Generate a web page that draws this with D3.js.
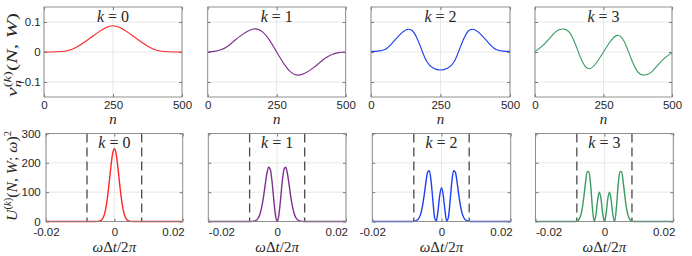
<!DOCTYPE html>
<html lang="en">
<head>
<meta charset="UTF-8">
<title>Slepian tapers and their spectra</title>
<script src="https://d3js.org/d3.v7.min.js"></script>
<style>
  body { margin: 0; background: #fff; }
  svg { display: block; }
  .tick text { font-family: "Liberation Sans", Arial, sans-serif; font-size: 11.5px; fill: #262626; }
  .tick line { stroke: #262626; stroke-width: 0.6; }
  .math { font-family: "Liberation Serif", "Times New Roman", serif; fill: #262626; }
</style>
</head>
<body>
<script>
  // taper order of each column
  const kOrders = [0, 1, 2, 3];

  // sample index n of the tapers (top row)
  const nSamples = [0, 25, 50, 75, 100, 125, 150, 175, 200, 225, 250, 275, 300, 325, 350, 375, 400, 425, 450, 475, 500];
  const taperK0 = [0.0000, 0.0002, 0.0006, 0.0025, 0.0085, 0.0200, 0.0350, 0.0515, 0.0680, 0.0815, 0.0875,
                   0.0815, 0.0680, 0.0515, 0.0350, 0.0200, 0.0085, 0.0025, 0.0006, 0.0002, 0.0000];
  const taperK1 = [0.0000, 0.0020, 0.0080, 0.0210, 0.0400, 0.0580, 0.0720, 0.0770, 0.0660, 0.0380, 0.0000,
                   -0.0380, -0.0660, -0.0770, -0.0720, -0.0580, -0.0400, -0.0210, -0.0080, -0.0020, 0.0000];
  const taperK2 = [0.0020, 0.0030, 0.0080, 0.0280, 0.0540, 0.0730, 0.0700, 0.0250, -0.0310, -0.0540, -0.0600,
                   -0.0540, -0.0310, 0.0250, 0.0700, 0.0730, 0.0540, 0.0280, 0.0080, 0.0030, 0.0020];
  const taperK3 = [0.0020, 0.0190, 0.0420, 0.0670, 0.0765, 0.0660, 0.0200, -0.0360, -0.0555, -0.0350, 0.0000,
                   0.0350, 0.0555, 0.0360, -0.0200, -0.0660, -0.0765, -0.0670, -0.0420, -0.0190, -0.0020];

  // normalised frequency omega*dt/2pi (bottom row)
  const freqGrid = [-0.02, -0.0085, -0.008, -0.0075, -0.007, -0.0065, -0.006, -0.0055, -0.005, -0.0045, -0.004,
                    -0.0035, -0.003, -0.0025, -0.002, -0.0015, -0.001, -0.0005, 0, 0.0005, 0.001, 0.0015, 0.002,
                    0.0025, 0.003, 0.0035, 0.004, 0.0045, 0.005, 0.0055, 0.006, 0.0065, 0.007, 0.0075, 0.008,
                    0.0085, 0.02];
  const spectrumK0 = [0, 0, 0, 0, 0, 0, 0, 0, 0.3, 1.0, 3.1, 8.6, 21, 45, 83, 134, 188, 232, 248,
                      232, 188, 134, 83, 45, 21, 8.6, 3.1, 1.0, 0.3, 0, 0, 0, 0, 0, 0, 0, 0];
  const spectrumK1 = [0, 0, 0, 0.2, 0.6, 1.8, 5, 12, 25, 48, 81, 123, 162, 185, 178, 138, 77, 22, 0,
                      22, 77, 138, 178, 185, 162, 123, 81, 48, 25, 12, 5, 1.8, 0.6, 0.2, 0, 0, 0];
  const spectrumK2 = [0, 0, 0.5, 1.7, 5, 12, 26, 52, 90, 134, 168, 173, 137, 72, 14, 2, 38, 90, 115,
                      90, 38, 2, 14, 72, 137, 173, 168, 134, 90, 52, 26, 12, 5, 1.7, 0.5, 0, 0];
  const spectrumK3 = [0, 0, 1, 5, 16, 40, 80, 130, 170, 170, 125, 50, 0.5, 20, 69, 100, 79, 27, 0,
                      27, 79, 100, 69, 20, 0.5, 50, 125, 170, 170, 130, 80, 40, 16, 5, 1, 0, 0];

  // half bandwidth W (dashed lines)
  const bandEdges = [-0.008, 0.008];

  // ticks
  const nTicks = [0, 250, 500];
  const vTicks = [-0.1, 0, 0.1];
  const fTicks = [-0.02, 0, 0.02];
  const fTickLabels = ["-0.02", "0", "0.02"];
  const uTicks = [0, 100, 200, 300];

  const tapers = [taperK0, taperK1, taperK2, taperK3];
  const spectra = [spectrumK0, spectrumK1, spectrumK2, spectrumK3];

  // ---- layout ----
  const colors = ["#ff2626", "#7e2f8e", "#1f3ff2", "#3b9a60"];
  const topLeft = [44, 207.7, 371, 535], topRight = [182, 345.7, 510, 672];
  const botLeft = [46, 208.3, 372.3, 535.5], botRight = [182.7, 346, 510.7, 673.3];
  const topY = [7, 97], botY = [133.5, 221.5];

  const svg = d3.select("body").append("svg")
    .attr("width", 692)
    .attr("height", 256)
    .style("background", "#fff");

  function drawPanel(x, y, xTicks, yTicks, showYLabels, yPad, xPad, xFmt) {
    const g = svg.append("g");
    const [x0, x1] = x.range(), [y1, y0] = y.range();

    // grid
    g.selectAll(null).data(xTicks).join("line")
      .attr("x1", d => x(d)).attr("x2", d => x(d))
      .attr("y1", y0).attr("y2", y1)
      .attr("stroke", "#e1e1e1").attr("stroke-width", 0.8);
    g.selectAll(null).data(yTicks).join("line")
      .attr("x1", x0).attr("x2", x1)
      .attr("y1", d => y(d)).attr("y2", d => y(d))
      .attr("stroke", "#e1e1e1").attr("stroke-width", 0.8);

    // axes, ticks pointing inwards
    const bottom = g.append("g").attr("transform", `translate(0,${y1})`)
      .call(d3.axisBottom(x).tickValues(xTicks).tickSize(-3).tickPadding(xPad).tickFormat(xFmt));
    g.append("g").attr("transform", `translate(0,${y0})`)
      .call(d3.axisTop(x).tickValues(xTicks).tickSize(-3).tickFormat(""));
    g.append("g").attr("transform", `translate(${x0},0)`)
      .call(d3.axisLeft(y).tickValues(yTicks).tickSize(-3).tickPadding(yPad)
        .tickFormat(showYLabels ? d3.format("") : ""));
    g.append("g").attr("transform", `translate(${x1},0)`)
      .call(d3.axisRight(y).tickValues(yTicks).tickSize(-3).tickFormat(""));
    g.selectAll(".domain").remove();

    return { g, bottom };
  }

  function addTitle(g, cx, baseY, k) {
    const t = g.append("text").attr("class", "math")
      .attr("x", cx).attr("y", baseY)
      .attr("text-anchor", "middle")
      .style("font-size", "16px");
    t.append("tspan").style("font-style", "italic").text("k");
    t.append("tspan").text(" = " + k);
  }

  function addBox(g, x, y) {
    const [x0, x1] = x.range(), [y1, y0] = y.range();
    g.append("rect")
      .attr("x", x0).attr("y", y0)
      .attr("width", x1 - x0).attr("height", y1 - y0)
      .attr("fill", "none")
      .attr("stroke", "#858585")
      .attr("stroke-width", 0.9);
  }

  kOrders.forEach((k, i) => {
    // ---- top row: tapers ----
    const xT = d3.scaleLinear().domain([0, 500]).range([topLeft[i], topRight[i]]);
    const yT = d3.scaleLinear().domain([-0.15, 0.15]).range([topY[1], topY[0]]);
    const top = drawPanel(xT, yT, nTicks, vTicks, i === 0, 3.3, 3.6, d3.format("d"));

    top.g.append("path")
      .datum(nSamples.map((n, j) => [n, tapers[i][j]]))
      .attr("d", d3.line().x(d => xT(d[0])).y(d => yT(d[1])).curve(d3.curveNatural))
      .attr("fill", "none")
      .attr("stroke", colors[i])
      .attr("stroke-width", 1.1);
    addBox(top.g, xT, yT);
    addTitle(top.g, (topLeft[i] + topRight[i]) / 2, 21.5, k);

    // ---- bottom row: spectra ----
    const xB = d3.scaleLinear().domain([-0.02, 0.02]).range([botLeft[i], botRight[i]]);
    const yB = d3.scaleLinear().domain([0, 300]).range([botY[1], botY[0]]);
    const bot = drawPanel(xB, yB, fTicks, uTicks, i === 0, 5.3, 6.5, (d, j) => fTickLabels[j]);

    // -0.02 / 0.02 labels as placed in the figure
    bot.bottom.selectAll(".tick text")
      .attr("text-anchor", (d, j) => j === 0 ? (i % 2 ? "start" : "middle") : (j === 2 ? "end" : "middle"))
      .attr("dx", (d, j) => j === 2 ? 1.5 : 0);

    bot.g.selectAll(null).data(bandEdges).join("line")
      .attr("x1", d => xB(d)).attr("x2", d => xB(d))
      .attr("y1", botY[0]).attr("y2", botY[1])
      .attr("stroke", "#4a4a4a")
      .attr("stroke-width", 1.3)
      .attr("stroke-dasharray", "9,5");

    bot.g.append("path")
      .datum(freqGrid.map((f, j) => [f, spectra[i][j]]))
      .attr("d", d3.line().x(d => xB(d[0])).y(d => yB(d[1])).curve(d3.curveMonotoneX))
      .attr("fill", "none")
      .attr("stroke", colors[i])
      .attr("stroke-width", 1.4);
    addBox(bot.g, xB, yB);
    addTitle(bot.g, (botLeft[i] + botRight[i]) / 2, 147.5, k);

    // x labels
    top.g.append("text").attr("class", "math")
      .attr("x", (topLeft[i] + topRight[i]) / 2).attr("y", 124)
      .attr("text-anchor", "middle")
      .style("font-size", "15px").style("font-style", "italic")
      .text("n");

    const xl = bot.g.append("text").attr("class", "math")
      .attr("x", (botLeft[i] + botRight[i]) / 2).attr("y", 251.5)
      .attr("text-anchor", "middle")
      .style("font-size", "15px");
    xl.append("tspan").style("font-style", "italic").text("ω");
    xl.append("tspan").text("Δ");
    xl.append("tspan").style("font-style", "italic").text("t");
    xl.append("tspan").text("/2");
    xl.append("tspan").style("font-style", "italic").text("π");
  });

  // ---- y labels ----
  const yl1 = svg.append("text").attr("class", "math")
    .attr("transform", "translate(17,55) rotate(-90)")
    .attr("text-anchor", "middle")
    .attr("textLength", 84)
    .attr("lengthAdjust", "spacingAndGlyphs")
    .style("font-size", "15px");
  yl1.append("tspan").style("font-style", "italic").text("v");
  yl1.append("tspan").attr("dy", 3.5).style("font-size", "10px").style("font-style", "italic").text("n");
  yl1.append("tspan").attr("dx", -5).attr("dy", -10).style("font-size", "10px").text("(");
  yl1.append("tspan").style("font-size", "10px").style("font-style", "italic").text("k");
  yl1.append("tspan").style("font-size", "10px").text(")");
  yl1.append("tspan").attr("dy", 6.5).text("(");
  yl1.append("tspan").style("font-style", "italic").text("N");
  yl1.append("tspan").text(", ");
  yl1.append("tspan").style("font-style", "italic").text("W");
  yl1.append("tspan").text(")");

  const yl2 = svg.append("text").attr("class", "math")
    .attr("transform", "translate(17,176) rotate(-90)")
    .attr("text-anchor", "middle")
    .attr("textLength", 90)
    .attr("lengthAdjust", "spacingAndGlyphs")
    .style("font-size", "15px");
  yl2.append("tspan").style("font-style", "italic").text("U");
  yl2.append("tspan").attr("dy", -6).style("font-size", "10px").text("(");
  yl2.append("tspan").style("font-size", "10px").style("font-style", "italic").text("k");
  yl2.append("tspan").style("font-size", "10px").text(")");
  yl2.append("tspan").attr("dy", 6).text("(");
  yl2.append("tspan").style("font-style", "italic").text("N");
  yl2.append("tspan").text(", ");
  yl2.append("tspan").style("font-style", "italic").text("W");
  yl2.append("tspan").text("; ");
  yl2.append("tspan").style("font-style", "italic").text("ω");
  yl2.append("tspan").text(")");
  yl2.append("tspan").attr("dy", -6).style("font-size", "10px").text("2");
</script>
</body>
</html>
